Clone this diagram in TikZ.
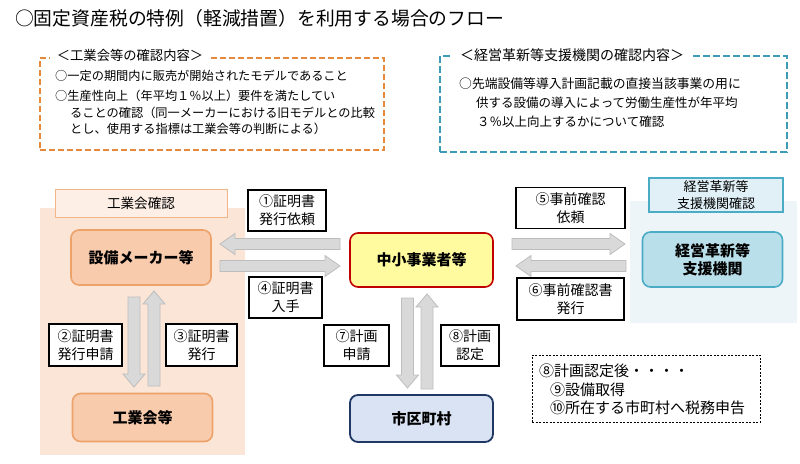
\documentclass[tikz,border=0pt]{standalone}
\usepackage{fontspec}
\setmainfont{Noto Sans CJK JP}
\definecolor{peach}{HTML}{FBE5D6}
\definecolor{peachlbl}{HTML}{FDEFE6}
\definecolor{orgfill}{HTML}{F8CBAD}
\definecolor{orgline}{HTML}{EDA26A}
\definecolor{ylw}{HTML}{FFFB9E}
\definecolor{darkred}{HTML}{C00000}
\definecolor{cityfill}{HTML}{DAE3F3}
\definecolor{cityline}{HTML}{203864}
\definecolor{tealfill}{HTML}{B9DFEA}
\definecolor{tealline}{HTML}{4BACC6}
\definecolor{bluereg}{HTML}{EDF5F9}
\definecolor{bluelbl}{HTML}{E0F0F6}
\definecolor{odashc}{HTML}{E48A3A}
\definecolor{bdashc}{HTML}{3E9BB6}
\definecolor{arrfill}{HTML}{D9D9D9}
\definecolor{arrline}{HTML}{BDBDBD}
\newcommand\fsz[1]{\fontsize{#1}{\dimexpr #1pt*13/10\relax}\selectfont}
\newcommand\blkh[3]{% tail x, tip x, y
  \pgfmathsetmacro\hdl{(#2>#1) ? -15 : 15}
  \draw[blockarr] ({#1},{#3-5.5}) -- ({#2+\hdl},{#3-5.5}) -- ({#2+\hdl},{#3-10.5}) -- ({#2},{#3})
    -- ({#2+\hdl},{#3+10.5}) -- ({#2+\hdl},{#3+5.5}) -- ({#1},{#3+5.5}) -- cycle;}
\newcommand\blkv[3]{% x, tail y, tip y
  \pgfmathsetmacro\hdl{(#3>#2) ? -13 : 13}
  \draw[blockarr] ({#1-6},{#2}) -- ({#1-6},{#3+\hdl}) -- ({#1-11},{#3+\hdl}) -- ({#1},{#3})
    -- ({#1+11},{#3+\hdl}) -- ({#1+6},{#3+\hdl}) -- ({#1+6},{#2}) -- cycle;}
\begin{document}
\begin{tikzpicture}[x=1pt,y=-1pt,
  blockarr/.style={fill=arrfill,draw=arrline,line width=0.8pt},
  mainnode/.style={rounded corners=8pt,line width=1.6pt,font=\fsz{15}\bfseries,align=center,inner sep=0pt},
  lblbox/.style={draw=black,fill=white,line width=1.2pt,font=\fsz{14},align=center,inner sep=0pt},
  txt/.style={anchor=west,inner sep=0pt},
  ]
\useasboundingbox (0,0) rectangle (800,463);
% title
\node[txt,font=\fsz{18.8}] (title) at (15,18) {○固定資産税の特例（軽減措置）を利用する場合のフロー};
% orange dashed box
\node[draw=odashc,line width=1.8pt,dash pattern=on 6pt off 3pt,minimum width=344pt,minimum height=92pt,inner sep=0pt] (obox) at (212,104) {};
\node[fill=white,inner xsep=7pt,inner ysep=1pt,font=\fsz{13.3}] (ohead) at (130,55) {＜工業会等の確認内容＞};
\node[txt,font=\fsz{12.2}] (ot1) at (55,76) {○一定の期間内に販売が開始されたモデルであること};
\node[txt,font=\fsz{12.2}] (ot2) at (55,96) {○生産性向上（年平均１％以上）要件を満たしてい};
\node[txt,font=\fsz{12.2}] (ot3) at (70,113) {ることの確認（同一メーカーにおける旧モデルとの比較};
\node[txt,font=\fsz{12.2}] (ot4) at (70,129) {とし、使用する指標は工業会等の判断による）};
% blue dashed box
\node[draw=bdashc,line width=1.8pt,dash pattern=on 7pt off 3pt,minimum width=347pt,minimum height=96pt,inner sep=0pt] (bbox) at (613.5,104) {};
\node[fill=white,inner xsep=9pt,inner ysep=1pt,font=\fsz{14}] (bhead) at (572,55) {＜経営革新等支援機関の確認内容＞};
\node[txt,font=\fsz{12.8}] (bt1) at (459,84) {○先端設備等導入計画記載の直接当該事業の用に};
\node[txt,font=\fsz{12.5}] (bt2) at (476,103) {供する設備の導入によって労働生産性が年平均};
\node[txt,font=\fsz{12.5}] (bt3) at (477,122) {３％以上向上するかについて確認};
% regions
\fill[peach] (40,208) rectangle (245,455);
\fill[bluereg] (630,201) rectangle (797,323);
\node[draw=orgline!80,fill=peachlbl,line width=0.9pt,minimum width=172pt,minimum height=28pt,inner sep=0pt,font=\fsz{13.6}] (klbl) at (141,203) {工業会確認};
\node[draw=tealline,fill=bluelbl,line width=1.1pt,minimum width=134pt,minimum height=34pt,inner sep=0pt,font=\fsz{13},align=center] (blbl) at (716,195) {経営革新等\\支援機関確認};
% main nodes
\node[mainnode,draw=orgline,fill=orgfill,minimum width=140pt,minimum height=55pt] (sm) at (141,257.5) {設備メーカー等};
\node[mainnode,draw=orgline,fill=orgfill,minimum width=140pt,minimum height=48pt] (kg) at (142.5,417.5) {工業会等};
\node[mainnode,draw=darkred,fill=ylw,minimum width=143pt,minimum height=54pt] (chu) at (421.5,260) {中小事業者等};
\node[mainnode,draw=cityline,fill=cityfill,minimum width=143pt,minimum height=47pt,line width=1.8pt] (city) at (421.5,418.5) {市区町村};
\node[mainnode,draw=tealline,fill=tealfill,minimum width=140pt,minimum height=55pt] (kei) at (712.5,259.5) {経営革新等\\[-1.5pt]支援機関};
% label boxes
\node[lblbox,minimum width=78pt,minimum height=41pt] (l1) at (287,210.5) {①証明書\\発行依頼};
\node[lblbox,minimum width=73pt,minimum height=41pt] (l4) at (285.5,297.5) {④証明書\\入手};
\node[lblbox,minimum width=73pt,minimum height=42pt] (l2) at (85.5,345) {②証明書\\発行申請};
\node[lblbox,minimum width=71pt,minimum height=42pt] (l3) at (201.5,345) {③証明書\\発行};
\node[lblbox,minimum width=109pt,minimum height=41pt] (l5) at (570.5,208) {⑤事前確認\\依頼};
\node[lblbox,minimum width=107pt,minimum height=42pt] (l6) at (570.5,299) {⑥事前確認書\\発行};
\node[lblbox,minimum width=65pt,minimum height=41pt] (l7) at (356.5,345.5) {⑦計画\\申請};
\node[lblbox,minimum width=58pt,minimum height=41pt] (l8) at (470,345.5) {⑧計画\\認定};
% block arrows
\blkh{340}{220}{244}
\blkh{220}{340}{266}
\blkh{512}{625}{244}
\blkh{626}{516}{266}
\blkv{134}{297}{387}
\blkv{154}{386}{291}
\blkv{407.5}{298}{388}
\blkv{427}{389}{294}
% dotted note box
\node[draw=black,line width=1pt,dash pattern=on 2pt off 1.5pt,minimum width=228pt,minimum height=67pt,inner sep=0pt] (note) at (646,388.5) {};
\node[txt,font=\fsz{15}] (n1) at (539,371) {⑧計画認定後・・・・};
\node[txt,font=\fsz{15}] (n2) at (550,389.5) {⑨設備取得};
\node[txt,font=\fsz{15}] (n3) at (550,408) {⑩所在する市町村へ税務申告};
\end{tikzpicture}
\end{document}
